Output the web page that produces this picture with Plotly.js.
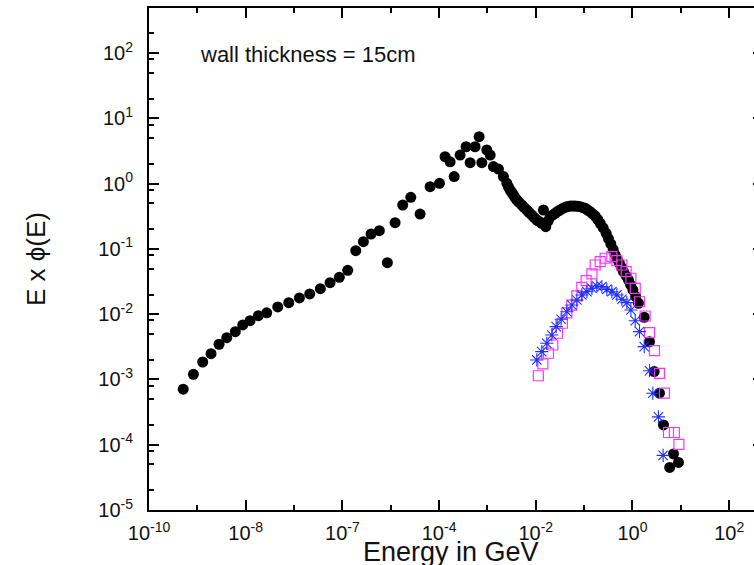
<!DOCTYPE html>
<html>
<head>
<meta charset="utf-8">
<script src="https://cdn.plot.ly/plotly-3.0.1.min.js"></script>
<style>
html, body { margin: 0; padding: 0; overflow: hidden; background: #fff; }
#chart { width: 766px; height: 565px; }
</style>
</head>
<body>
<div id="chart"></div>
<script>
// Black circles: total spectrum (dense band points listed after the main run)
const blackE = [5.1e-10, 8.3e-10, 1.29e-9, 1.92e-9, 2.81e-9, 4.06e-9, 6.1e-9, 8.7e-9, 1.23e-8, 1.83e-8,
  2.72e-8, 4.6e-8, 7.78e-8, 1.29e-7, 2.11e-7, 3.5e-7, 5.56e-7, 8.65e-7, 1.29e-6,
  1.89e-6, 2.72e-6, 3.92e-6, 5.82e-6, 8.53e-6, 1.23e-5, 1.77e-5, 2.6e-5, 4.05e-5, 6.52e-5,
  1.02e-4, 1.33e-4, 1.69e-4, 2.05e-4, 2.72e-4, 3.62e-4, 4.39e-4, 5.56e-4, 6.73e-4, 7.66e-4,
  9.7e-4, 1.14e-3, 1.33e-3, 1.69e-3, 2.14e-3, 2.52e-3, 2.94e-3, 3.45e-3, 4.06e-3, 5.14e-3,
  6.53e-3, 8.28e-3, 1.05e-2, 1.33e-2, 1.44e-2, 1.61e-2, 1.98e-2, 2.51e-2, 3.19e-2, 4.05e-2,
  5.14e-2, 6.52e-2, 8.28e-2, 0.105, 0.133, 0.169, 0.215, 0.286, 0.357, 0.439,
  0.538, 0.652, 0.826, 1.02, 1.33, 1.75, 2.25, 2.81, 3.62, 4.38,
  5.89, 7.05, 8.95,
  2.72e-3, 3.2e-3, 3.74e-3, 4.53e-3, 5.74e-3, 7.3e-3, 9.25e-3, 1.17e-2, 1.8e-2, 2.23e-2,
  2.83e-2, 3.6e-2, 4.56e-2, 5.8e-2, 7.35e-2, 9.33e-2, 0.118, 0.15, 0.191, 0.248,
  0.318, 0.399, 0.482, 0.592, 0.741, 0.918, 1.16];
const blackF = [7.08e-4, 1.2e-3, 1.85e-3, 2.48e-3, 3.46e-3, 4.37e-3, 5.4e-3, 6.84e-3, 7.95e-3, 9.48e-3,
  1.05e-2, 1.29e-2, 1.5e-2, 1.77e-2, 2.04e-2, 2.46e-2, 3.03e-2, 3.67e-2, 4.7e-2,
  9.38e-2, 0.129, 0.169, 0.19, 6.15e-2, 0.252, 0.47, 0.617, 0.342, 0.897,
  1.01, 2.58, 2.16, 1.28, 2.74, 3.67, 2.09, 3.67, 5.23, 2.09,
  3.27, 2.74, 1.82, 1.67, 1.28, 1.01, 0.798, 0.669, 0.561, 0.47,
  0.394, 0.33, 0.277, 0.247, 0.394, 0.219, 0.311, 0.351, 0.394, 0.434,
  0.454, 0.454, 0.443, 0.419, 0.372, 0.319, 0.247, 0.173, 0.119, 8.07e-2,
  6.01e-2, 4.48e-2, 3.34e-2, 2.35e-2, 1.47e-2, 8.97e-3, 3.79e-3, 1.32e-3, 6.15e-4, 2.01e-4,
  4.49e-5, 7.23e-5, 5.36e-5,
  0.887, 0.731, 0.612, 0.514, 0.431, 0.361, 0.303, 0.263, 0.267, 0.33,
  0.374, 0.416, 0.446, 0.454, 0.449, 0.431, 0.394, 0.345, 0.282, 0.209,
  0.144, 9.8e-2, 7.0e-2, 5.19e-2, 3.85e-2, 2.8e-2, 1.87e-2];

// Magenta open squares
const magE = [1.13e-2, 1.4e-2, 1.83e-2, 2.25e-2, 2.81e-2, 3.56e-2, 4.4e-2, 5.57e-2, 7.08e-2, 8.97e-2,
  0.11, 0.145, 0.169, 0.215, 0.272, 0.375, 0.475, 0.604, 0.74, 0.927,
  1.14, 1.4, 1.83, 2.25, 2.85, 3.62, 4.59, 5.56, 7.36, 9.12];
const magF = [1.14e-3, 1.73e-3, 2.52e-3, 3.37e-3, 5.1e-3, 7.26e-3, 1.05e-2, 1.38e-2, 1.9e-2, 2.58e-2,
  3.26e-2, 4.13e-2, 5.66e-2, 6.37e-2, 7.18e-2, 7.6e-2, 6.59e-2, 5.66e-2, 4.48e-2, 3.55e-2,
  2.49e-2, 1.55e-2, 9.38e-3, 5.21e-3, 2.76e-3, 1.24e-3, 6.15e-4, 1.54e-4, 1.54e-4, 1.01e-4];

// Blue asterisks
const blueE = [1.05e-2, 1.33e-2, 1.69e-2, 2.15e-2, 2.64e-2, 3.35e-2, 4.4e-2, 5.57e-2, 7.08e-2, 8.97e-2,
  0.114, 0.145, 0.183, 0.233, 0.295, 0.375, 0.475, 0.604, 0.766, 0.927,
  1.14, 1.4, 1.75, 2.25, 2.64, 3.45, 4.31];
const blueF = [1.99e-3, 2.67e-3, 3.58e-3, 4.8e-3, 6.44e-3, 8.36e-3, 1.09e-2, 1.38e-2, 1.65e-2, 1.97e-2,
  2.21e-2, 2.49e-2, 2.7e-2, 2.64e-2, 2.4e-2, 2.21e-2, 1.97e-2, 1.69e-2, 1.5e-2, 1.16e-2,
  7.94e-3, 5.4e-3, 3.18e-3, 1.36e-3, 6.15e-4, 2.67e-4, 6.86e-5];

// Tick labels (as printed on the original figure)
const xTickVals = [1e-10, 1e-8, 1e-6, 1e-4, 1e-2, 1, 1e2];
const xTickText = ['10<sup>-10</sup>', '10<sup>-8</sup>', '10<sup>-7</sup>', '10<sup>-4</sup>',
                   '10<sup>-2</sup>', '10<sup>0</sup>', '10<sup>2</sup>'];
const xMinorVals = [1e-9, 1e-7, 1e-5, 1e-3, 1e-1, 1e1, 1e3];
const yTickVals = [1e-5, 1e-4, 1e-3, 1e-2, 1e-1, 1, 1e1, 1e2];
const yTickText = ['10<sup>-5</sup>', '10<sup>-4</sup>', '10<sup>-3</sup>', '10<sup>-2</sup>',
                   '10<sup>-1</sup>', '10<sup>0</sup>', '10<sup>1</sup>', '10<sup>2</sup>'];
const yMinorMult = [2, 5, 8];

const yMinorVals = [];
for (let e = -6; e <= 2; e++) {
  yMinorMult.forEach(m => yMinorVals.push(m * Math.pow(10, e)));
}

const FONT = 'Liberation Sans, Arial, Helvetica, sans-serif';

const traces = [
  {
    x: blackE, y: blackF, type: 'scatter', mode: 'markers', name: 'total',
    marker: { symbol: 'circle', size: 11, color: '#000000' }
  },
  {
    x: magE, y: magF, type: 'scatter', mode: 'markers', name: 'magenta',
    marker: { symbol: 'square-open', size: 10, color: '#ff33ff', line: { width: 1.2, color: '#ff33ff' } }
  },
  {
    x: blueE, y: blueF, type: 'scatter', mode: 'markers', name: 'blue',
    marker: { symbol: 'asterisk-open', size: 11, color: '#2030ff', line: { width: 1.1, color: '#2030ff' } }
  }
];

const axisCommon = {
  type: 'log',
  showline: true, linewidth: 2, linecolor: '#000',
  mirror: 'ticks',
  ticks: 'inside', ticklen: 10, tickwidth: 2, tickcolor: '#000',
  showgrid: false, zeroline: false,
  tickfont: { family: FONT, size: 20, color: '#111' },
  tickmode: 'array'
};

const layout = {
  width: 766, height: 565,
  margin: { l: 149, r: 3, t: 8, b: 55 },
  paper_bgcolor: '#fff', plot_bgcolor: '#fff',
  showlegend: false,
  xaxis: Object.assign({}, axisCommon, {
    range: [-10, 2.70],
    tickvals: xTickVals, ticktext: xTickText,
    ticklabelstandoff: 4,
    minor: { tickmode: 'array', tickvals: xMinorVals, ticks: 'inside', ticklen: 5, tickwidth: 2, tickcolor: '#000', showgrid: false }
  }),
  yaxis: Object.assign({}, axisCommon, {
    range: [-5, 2.69],
    tickvals: yTickVals, ticktext: yTickText,
    ticklabelstandoff: 10,
    minor: { tickmode: 'array', tickvals: yMinorVals, ticks: 'inside', ticklen: 5, tickwidth: 2, tickcolor: '#000', showgrid: false }
  }),
  annotations: [
    {
      text: 'wall thickness = 15cm', xref: 'paper', yref: 'paper',
      x: 0.0798, y: 0.936, xanchor: 'left', yanchor: 'top', showarrow: false,
      font: { family: FONT, size: 22, color: '#111' }
    },
    {
      text: 'Energy in GeV', xref: 'paper', yref: 'paper',
      x: 0.492, y: -0.05, xanchor: 'center', yanchor: 'top', showarrow: false,
      font: { family: FONT, size: 27, color: '#111' }
    },
    {
      text: 'E x ϕ(E)', xref: 'paper', yref: 'paper',
      x: -0.184, y: 0.5, xanchor: 'center', yanchor: 'middle', showarrow: false,
      textangle: -90,
      font: { family: FONT, size: 26, color: '#111' }
    }
  ]
};

Plotly.newPlot('chart', traces, layout, { displayModeBar: false, staticPlot: true });
</script>
</body>
</html>
